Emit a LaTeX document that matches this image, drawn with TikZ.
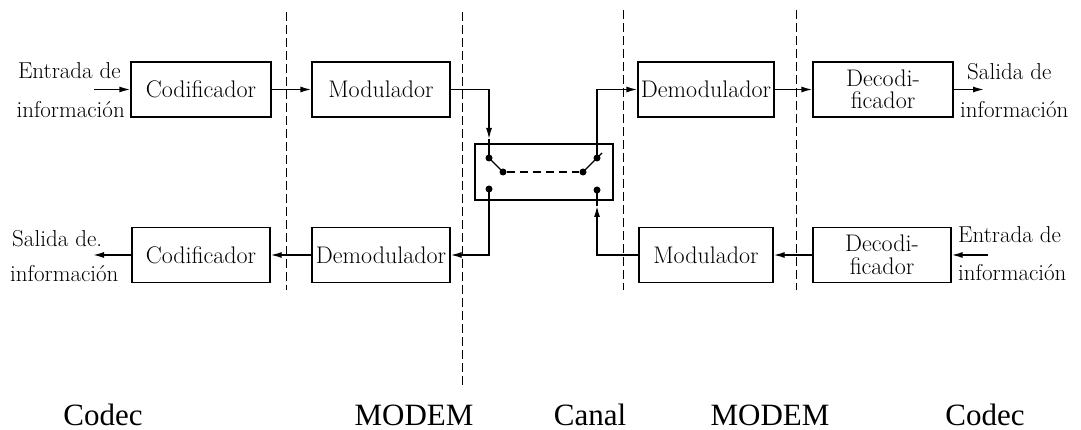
\documentclass[tikz,border=0pt]{standalone}
\usepackage{fontspec}
\newfontfamily\libser{Liberation Serif}
\usetikzlibrary{arrows.meta}
\begin{document}
\begin{tikzpicture}[x=1pt,y=-1pt,
  blk/.style={draw,line width=1.4pt,minimum height=55pt,inner sep=1pt,align=center,font=\fontsize{24}{22.5}\selectfont},
  lbl/.style={inner sep=0pt,font=\fontsize{23}{23}\selectfont},
  wire/.style={line width=1.4pt},
  arr/.style={wire,-{Latex[length=11pt,width=6pt]}},
  sep/.style={line width=0.9pt,dash pattern=on 9pt off 4pt},
  dotc/.style={circle,fill,inner sep=0pt,minimum size=7pt},
  capt/.style={inner sep=0pt,anchor=base,font=\libser\fontsize{31}{31}\selectfont}]
\useasboundingbox (0,0) rectangle (1081,430);
% separators
\coordinate (s1t) at (286,12); \coordinate (s1b) at (286,290);
\coordinate (s2t) at (462,12); \coordinate (s2b) at (462,385);
\coordinate (s3t) at (623,10); \coordinate (s3b) at (623,290);
\coordinate (s4t) at (796,10); \coordinate (s4b) at (796,290);
\draw[sep] (s1t) -- (s1b);
\draw[sep] (s2t) -- (s2b);
\draw[sep] (s3t) -- (s3b);
\draw[sep] (s4t) -- (s4b);
% top row
\node[blk,minimum width=140pt] (cod1) at (201,89.5) {Codificador};
\node[blk,minimum width=138pt] (mod1) at (381,89.5) {Modulador};
\node[blk,minimum width=136pt] (dem1) at (706,89.5) {Demodulador};
\node[blk,minimum width=140pt] (dec1) at (883,89.5) {Decodi-\\ficador};
% bottom row
\node[blk,minimum width=138pt] (cod2) at (201,255) {Codificador};
\node[blk,minimum width=138pt] (dem2) at (381,255) {Demodulador};
\node[blk,minimum width=134pt] (mod2) at (706,255) {Modulador};
\node[blk,minimum width=138pt] (dec2) at (882,255) {Decodi-\\ficador};
% switch
\node[draw,line width=1.4pt,minimum width=138pt,minimum height=56pt,inner sep=0pt] (sw) at (544,172) {};
\node[dotc] (a1) at (489,158) {};
\node[dotc] (a2) at (503,172) {};
\node[dotc] (b2) at (583,172) {};
\node[dotc] (b1) at (597,158) {};
\node[dotc] (c1) at (489,189) {};
\node[dotc] (d1) at (597,190) {};
\draw[wire] (a1.center) -- (a2.center);
\draw[wire] (b2.center) -- (b1.center) -- ++(5,-5);
\draw[wire,dash pattern=on 8pt off 5pt] (a2) -- (b2);
% side labels
\node[lbl,anchor=base east] (inTLa) at (121,79) {Entrada de};
\node[lbl,anchor=base east] (inTLb) at (125,118) {información};
\node[lbl,anchor=base west] (outTRa) at (967,80) {Salida de};
\node[lbl,anchor=base west] (outTRb) at (960,118) {información};
\node[lbl,anchor=base west] (outBLa) at (12,247) {Salida de.};
\node[lbl,anchor=base west] (outBLb) at (10,282) {información};
\node[lbl,anchor=base west] (inBRa) at (958,243) {Entrada de};
\node[lbl,anchor=base west] (inBRb) at (958,280) {información};
% connectors
\coordinate (inTL) at (94,89.5);
\coordinate (outTR) at (984,89.5);
\coordinate (inBR) at (988,255);
\coordinate (outBL) at (93,255);
\coordinate (tipA) at (489,139);
\coordinate (tipD) at (597,206);
\draw[arr] (inTL) -- (cod1.west);
\draw[arr] (cod1.east) -- (mod1.west);
\draw[arr] (mod1.east) -| (tipA);
\draw[wire] (tipA) -- (a1.center);
\draw[arr] (b1.center) |- (dem1.west);
\draw[arr] (dem1.east) -- (dec1.west);
\draw[arr] (dec1.east) -- (outTR);
\draw[arr] (inBR) -- (dec2.east);
\draw[arr] (dec2.west) -- (mod2.east);
\draw[arr] (mod2.west) -| (tipD);
\draw[wire] (tipD) -- (d1.center);
\draw[arr] (c1.center) |- (dem2.east);
\draw[arr] (dem2.west) -- (cod2.east);
\draw[arr] (cod2.west) -- (outBL);
% captions
\node[capt] (k1) at (103,425) {Codec};
\node[capt] (k2) at (414,425) {MODEM};
\node[capt] (k3) at (590,425) {Canal};
\node[capt] (k4) at (770,425) {MODEM};
\node[capt] (k5) at (985,425) {Codec};
\end{tikzpicture}
\end{document}
